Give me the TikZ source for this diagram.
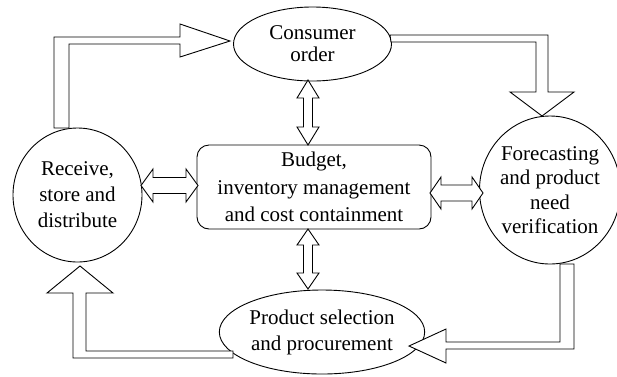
\documentclass[tikz,border=0pt]{standalone}
\usepackage{fontspec}
\setmainfont{Liberation Serif}
\usetikzlibrary{shapes.geometric}
\tikzset{
  lw/.style={line width=0.9pt},
  ell/.style={ellipse, draw, lw, fill=white, inner sep=0pt, align=center},
  boxnode/.style={rectangle, draw, lw, fill=white, rounded corners=12pt, inner sep=0pt, align=center},
  blockarrow/.style={draw, lw, fill=white, line join=miter},
  fs/.style={font=\fontsize{21}{#1}\selectfont}
}
% vertical double arrow: x, ytop, ybottom, head length, head width, shaft width
\newcommand\vdarr[6]{%
  \draw[blockarrow] (#1,#2) -- ({#1+#5/2},{#2+#4}) -- ({#1+#6/2},{#2+#4}) -- ({#1+#6/2},{#3-#4})
    -- ({#1+#5/2},{#3-#4}) -- (#1,#3) -- ({#1-#5/2},{#3-#4}) -- ({#1-#6/2},{#3-#4})
    -- ({#1-#6/2},{#2+#4}) -- ({#1-#5/2},{#2+#4}) -- cycle;}
% horizontal double arrow: y, xleft, xright, head length, head width, shaft width
\newcommand\hdarr[6]{%
  \draw[blockarrow] (#2,#1) -- ({#2+#4},{#1-#5/2}) -- ({#2+#4},{#1-#6/2}) -- ({#3-#4},{#1-#6/2})
    -- ({#3-#4},{#1-#5/2}) -- (#3,#1) -- ({#3-#4},{#1+#5/2}) -- ({#3-#4},{#1+#6/2})
    -- ({#2+#4},{#1+#6/2}) -- ({#2+#4},{#1+#5/2}) -- cycle;}
\begin{document}
\begin{tikzpicture}[x=1pt,y=-1pt]
\useasboundingbox (0,0) rectangle (617,376);
% nodes
\node[ell, fs=22, minimum width=158pt, minimum height=74pt] (co) at (312.5,44) {Consumer\\order};
\node[ell, fs=26, minimum width=129pt, minimum height=134pt] (rec) at (77.5,195) {Receive,\\store and\\distribute};
\node[ell, fs=24.5, minimum width=133pt, minimum height=148pt] (fc) at (550,190) {Forecasting\\and product\\need\\verification};
\node[ell, fs=26, minimum width=184pt, minimum height=84pt] (ps) at (322,332) {Product selection\\and procurement};
\node[boxnode, fs=27.5, minimum width=234pt, minimum height=84pt] (bud) at (314,187) {Budget,\\inventory management\\and cost containment};
% big block arrows around the cycle
\draw[blockarrow] (54,128) -- (54,37) -- (180,37) -- (180,24) -- (230,41)
  -- (180,57) -- (180,44) -- (69,44) -- (69,128) -- cycle;
\draw[blockarrow] (390,35) -- (548,35) -- (548,92) -- (574,92) -- (542,116) -- (510,92)
  -- (536,92) -- (536,42) -- (391,42) -- cycle;
\draw[blockarrow] (560,264) -- (574,264) -- (574,349) -- (446,349) -- (446,363) -- (409,346)
  -- (446,329) -- (446,342) -- (560,342) -- cycle;
\draw[blockarrow] (233,351) -- (86,351) -- (86,293) -- (113,293) -- (80,266) -- (47,293)
  -- (73,293) -- (73,358) -- (233,358) -- cycle;
% double arrows to the central box
\vdarr{308}{80}{145}{18}{22}{9}
\vdarr{308}{229}{289}{16}{22}{9}
\hdarr{185.5}{141}{198}{12}{33}{16}
\hdarr{193}{430}{483}{11}{32}{16}
\end{tikzpicture}
\end{document}
